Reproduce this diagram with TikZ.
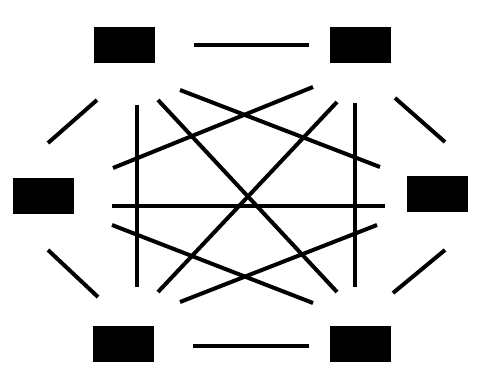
\documentclass[tikz,border=0pt]{standalone}
\usepackage{tikz}
\usetikzlibrary{
  positioning,
  calc
}
\usepackage{xcolor}

\begin{document}
\begin{tikzpicture}[
  x=1pt, y=-1pt,
  unit/.style={draw=black, fill=black, minimum width=60pt, minimum height=35pt,
               inner sep=0pt},
  link/.style={line width=4pt, black}
]

\useasboundingbox (0, 0) rectangle (492, 374);

% six units round the hexagon
\node[unit] (tl) at (124.5, 45) {};
\node[unit] (tr) at (360, 45) {};
\node[unit] (lt) at (43, 195.5) {};
\node[unit] (rt) at (437.5, 193.5) {};
\node[unit] (bl) at (123.5, 343.5) {};
\node[unit] (br) at (360, 343.5) {};

% outer ring
\draw[link] ([shift={(69.5, 0)}]tl.center) -- ([shift={(-51, 0)}]tr.center);
\draw[link] ([shift={(69.5, 2.5)}]bl.center) -- ([shift={(-51, 2.5)}]br.center);
\draw[link] ([shift={(-27.5, 55)}]tl.center) -- ([shift={(5, -52.5)}]lt.center);
\draw[link] ([shift={(5, 54.5)}]lt.center) -- ([shift={(-25.5, -46.5)}]bl.center);
\draw[link] ([shift={(35, 53)}]tr.center) -- ([shift={(7.5, -51.5)}]rt.center);
\draw[link] ([shift={(7.5, 56.5)}]rt.center) -- ([shift={(33, -50.5)}]br.center);

% inner links
\draw[link] ([shift={(12.5, 60)}]tl.center) -- ([shift={(13.5, -56.5)}]bl.center);
\draw[link] ([shift={(-5, 58)}]tr.center) -- ([shift={(-5, -56.5)}]br.center);
\draw[link] ([shift={(69, 10.5)}]lt.center) -- ([shift={(-52.5, 12.5)}]rt.center);
\draw[link] ([shift={(55.5, 45)}]tl.center) -- ([shift={(-57.5, -26.5)}]rt.center);
\draw[link] ([shift={(-47, 42)}]tr.center) -- ([shift={(70, -27.5)}]lt.center);
\draw[link] ([shift={(33.5, 55)}]tl.center) -- ([shift={(-23, -51.5)}]br.center);
\draw[link] ([shift={(-23, 57)}]tr.center) -- ([shift={(34.5, -51.5)}]bl.center);
\draw[link] ([shift={(69, 29.5)}]lt.center) -- ([shift={(-47, -40.5)}]br.center);
\draw[link] ([shift={(-60.5, 31.5)}]rt.center) -- ([shift={(56.5, -41.5)}]bl.center);

\end{tikzpicture}
\end{document}
